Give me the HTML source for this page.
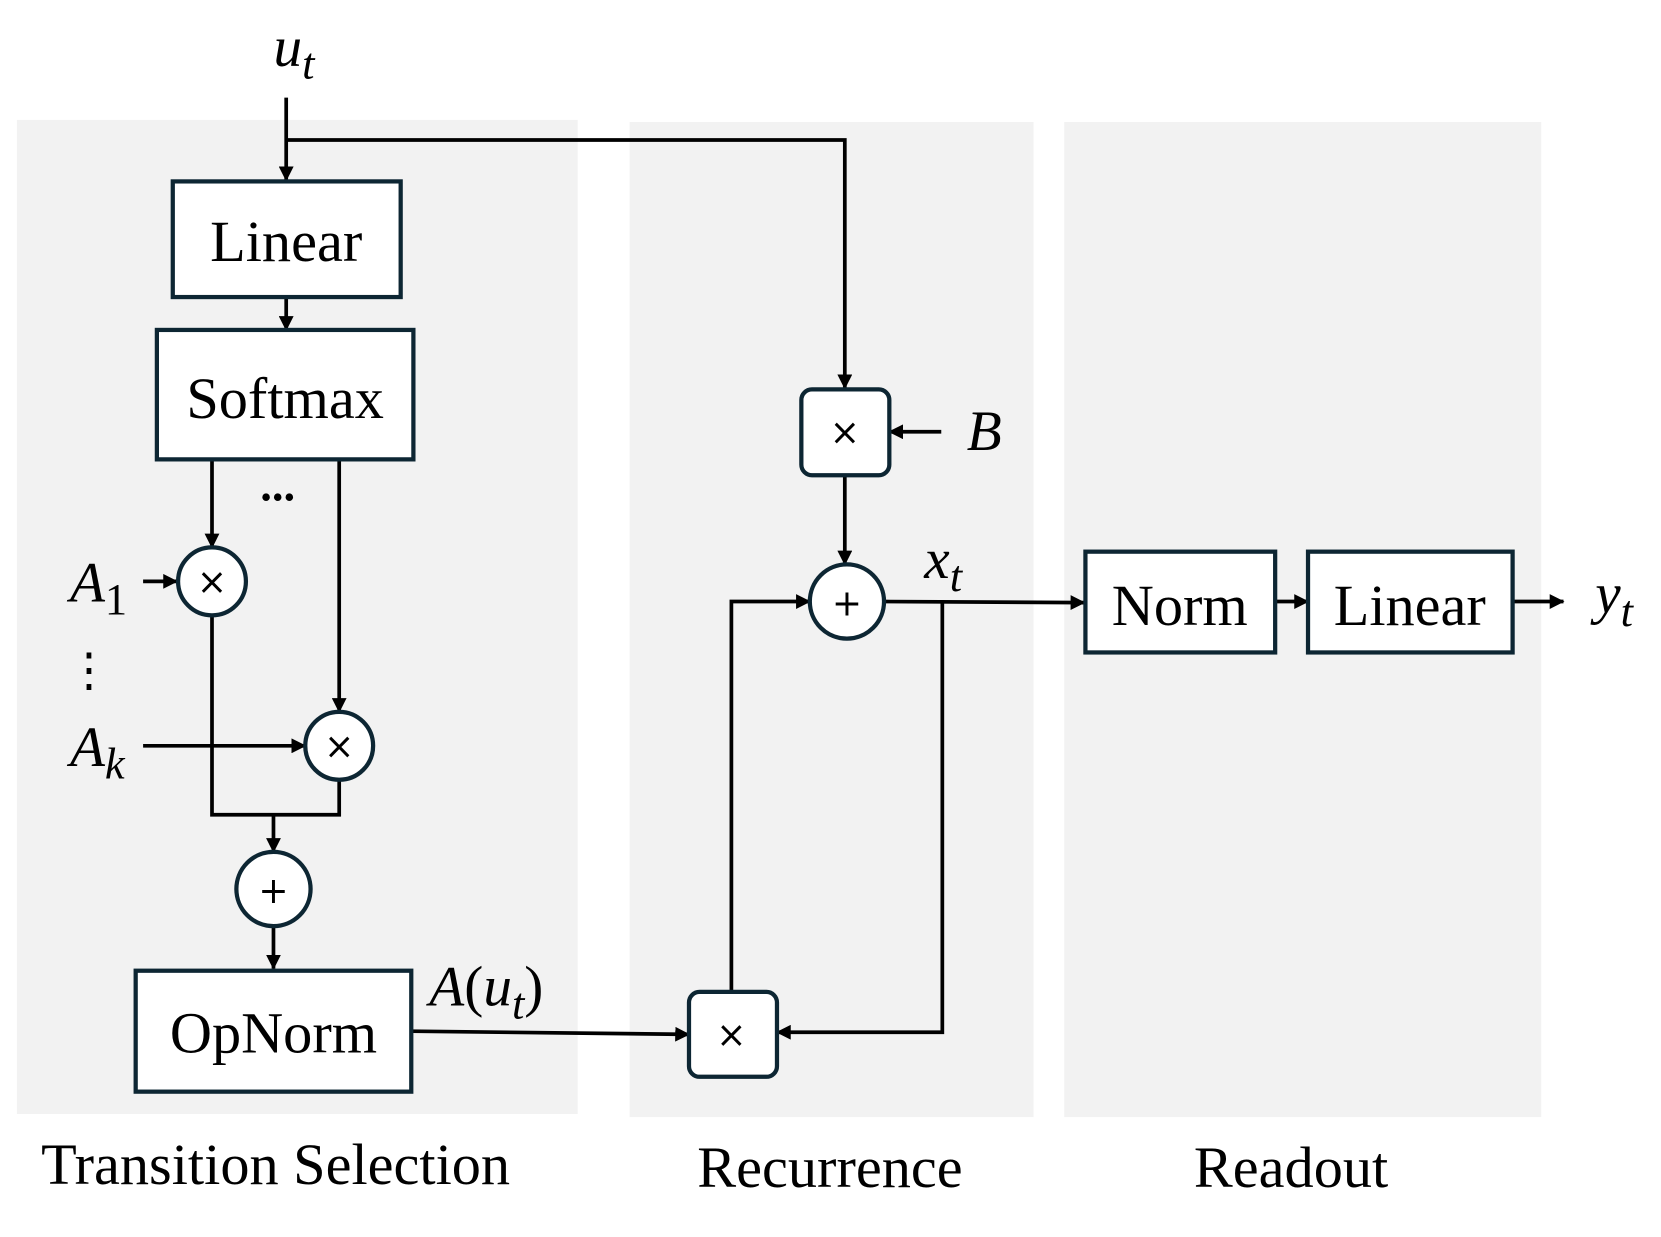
<!DOCTYPE html>
<html><head><style>html,body{margin:0;padding:0;background:#fff}svg{display:block}</style></head><body>
<svg width="1661" height="1237" viewBox="0 0 1567 1166" preserveAspectRatio="none" xmlns="http://www.w3.org/2000/svg" font-family="Liberation Serif, serif">
<defs>
<marker id="b" markerWidth="14" markerHeight="14" refX="13" refY="7" orient="auto" markerUnits="userSpaceOnUse" viewBox="0 0 14 14"><path d="M0,0 L14,7 L0,14 z" fill="#000"/></marker></defs>
<rect x="16" y="113" width="529" height="937" fill="#f2f2f2"/>
<rect x="594" y="115" width="381" height="938" fill="#f2f2f2"/>
<rect x="1004" y="115" width="450" height="938" fill="#f2f2f2"/>
<g stroke="#000" stroke-width="3.5" fill="none">
<path d="M270,92 V170" marker-end="url(#b)"/>
<path d="M270,132 H797 V366" marker-end="url(#b)"/>
<path d="M270,280 V311" marker-end="url(#b)"/>
<path d="M200,433 V516" marker-end="url(#b)"/>
<path d="M320,433 V671" marker-end="url(#b)"/>
<path d="M135,548 H167" marker-end="url(#b)"/>
<path d="M135,703 H288" marker-end="url(#b)"/>
<path d="M200,580 V768 H320 V735"/>
<path d="M258,768 V803" marker-end="url(#b)"/>
<path d="M258,873 V913" marker-end="url(#b)"/>
<path d="M388,972 L650,975" marker-end="url(#b)"/>
<path d="M690,935 V567 H764" marker-end="url(#b)"/>
<path d="M888,407 H839" marker-end="url(#b)"/>
<path d="M797,448 V532" marker-end="url(#b)"/>
<path d="M834,567 L1023,568" marker-end="url(#b)"/>
<path d="M889,567 V973 H733" marker-end="url(#b)"/>
<path d="M1203,567 H1234" marker-end="url(#b)"/>
<path d="M1427,567 H1475" marker-end="url(#b)"/>
</g>
<g stroke="#0d2633" stroke-width="4" fill="#fff">
<rect x="163" y="171" width="215" height="109"/>
<rect x="148" y="311" width="242" height="122"/>
<rect x="128" y="915" width="260" height="114"/>
<rect x="1024" y="520" width="179" height="95"/>
<rect x="1234" y="520" width="193" height="95"/>
<rect x="756" y="367" width="83" height="81" rx="10"/>
<rect x="650" y="935" width="83" height="80" rx="10"/>
<circle cx="200" cy="548" r="32"/>
<circle cx="320" cy="703" r="32"/>
<circle cx="258" cy="838" r="35"/>
<circle cx="799" cy="567" r="35"/>
</g>
<g font-size="55" text-anchor="middle" fill="#000">
<text x="270" y="246">Linear</text>
<text x="269" y="394">Softmax</text>
<text x="258" y="992">OpNorm</text>
<text x="1113" y="589">Norm</text>
<text x="1330" y="589">Linear</text>
<text x="260" y="1116">Transition Selection</text>
<text x="783" y="1119">Recurrence</text>
<text x="1218" y="1119">Readout</text>
<g font-size="34" font-family="DejaVu Sans, sans-serif">
<text x="200" y="560">×</text><text x="320" y="715">×</text>
<text x="797" y="419">×</text><text x="690" y="987">×</text>
<text x="258" y="851">+</text><text x="799" y="580">+</text>
</g>
<text x="262" y="472" font-size="44" font-weight="bold">...</text>
<text x="84" y="646" font-size="44">⋮</text>
</g>
<g font-style="italic" font-size="54" fill="#000">
<text x="258" y="62">u<tspan font-size="42" dy="12">t</tspan></text>
<text x="66" y="567">A<tspan font-size="42" dy="12" font-style="normal">1</tspan></text>
<text x="66" y="722">A<tspan font-size="42" dy="12">k</tspan></text>
<text x="912" y="424">B</text>
<text x="872" y="545">x<tspan font-size="42" dy="12">t</tspan></text>
<text x="1505" y="578">y<tspan font-size="42" dy="12">t</tspan></text>
<text x="405" y="948">A<tspan font-style="normal">(</tspan>u<tspan font-size="42" dy="12">t</tspan><tspan font-style="normal" dy="-12">)</tspan></text>
</g>
</svg>
</body></html>
